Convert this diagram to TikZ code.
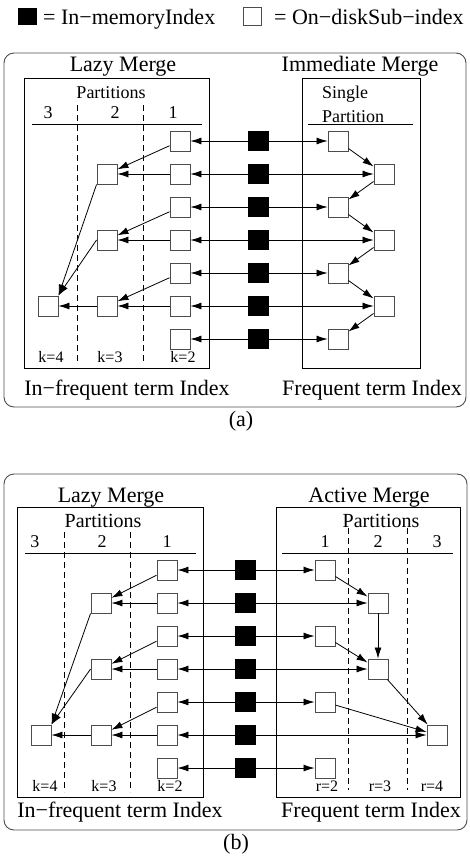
\documentclass[tikz,border=0pt]{standalone}
\usepackage{fontspec}
\setmainfont{Liberation Serif}
\usetikzlibrary{arrows.meta}

\tikzset{
  diskbox/.style={draw=black!70, fill=white, line width=0.9pt, minimum size=20pt, inner sep=0pt},
  membox/.style={fill=black, minimum width=21pt, minimum height=20pt, inner sep=0pt},
  arrowline/.style={draw, line width=0.8pt, -{Latex[length=11pt,width=7pt]}},
  twoarrow/.style={draw, line width=0.8pt, {Latex[length=11pt,width=7pt]}-{Latex[length=11pt,width=7pt]}},
  outerframe/.style={draw=black!70, line width=0.9pt, rounded corners=10pt},
  halfbox/.style={draw, line width=0.9pt},
  divline/.style={draw, line width=0.8pt, dash pattern=on 6pt off 4pt},
  bigtext/.style={font=\fontsize{22}{24}\selectfont, inner sep=0pt, anchor=base},
  midtext/.style={font=\fontsize{18}{20}\selectfont, inner sep=0pt, anchor=base},
  smalltext/.style={font=\fontsize{16}{18}\selectfont, inner sep=0pt, anchor=base},
}

\begin{document}
\begin{tikzpicture}[x=1pt, y=-1pt]
\useasboundingbox (0,0) rectangle (469,857);

% legend
\node[membox, minimum width=19pt, minimum height=17pt] (keymem) at (27.5,16.5) {};
\node[bigtext, anchor=base west] (keymemtext) at (43,24) {= In−memoryIndex};
\node[diskbox, minimum size=18pt] (keydisk) at (252,16.5) {};
\node[bigtext, anchor=base west] (keydisktext) at (274,24) {= On−diskSub−index};

% ---------- (a) ----------
\draw[outerframe] (4,53) rectangle (466,407);
\draw[halfbox] (24,78) rectangle (209,368);
\draw[halfbox] (302,78) rectangle (420,368);
\draw (32,124) -- (202,124);
\draw (308,124) -- (413,124);
\draw[divline] (77,105) -- (77,363);
\draw[divline] (143,105) -- (143,363);

\node[bigtext] (alazy) at (123,71) {Lazy Merge};
\node[bigtext] (aimm) at (360,71) {Immediate Merge};
\node[midtext] (aparts) at (111,98) {Partitions};
\node[midtext] (ap3) at (48,118) {3};
\node[midtext] (ap2) at (115,118) {2};
\node[midtext] (ap1) at (173,118) {1};
\node[midtext, anchor=base west] (asingle) at (322,98) {Single};
\node[midtext, anchor=base west] (apart) at (322,122) {Partition};
\node[smalltext] (ak4) at (51,362) {k=4};
\node[smalltext] (ak3) at (110,362) {k=3};
\node[smalltext] (ak2) at (183,362) {k=2};
\node[bigtext] (ainfreq) at (127,395) {In−frequent term Index};
\node[bigtext] (afreq) at (372,395) {Frequent term Index};
\node[bigtext] (acap) at (241,426) {(a)};

\node[diskbox] (a11) at (180,141) {};
\node[diskbox] (a12) at (180,174) {};
\node[diskbox] (a13) at (180,207) {};
\node[diskbox] (a14) at (180,240) {};
\node[diskbox] (a15) at (180,273) {};
\node[diskbox] (a16) at (180,306) {};
\node[diskbox] (a17) at (180,339) {};
\node[diskbox] (a22) at (107,174) {};
\node[diskbox] (a24) at (107,240) {};
\node[diskbox] (a26) at (107,306) {};
\node[diskbox] (a36) at (48,306) {};

\node[diskbox] (aF1) at (338,141) {};
\node[diskbox] (aF2) at (384,174) {};
\node[diskbox] (aF3) at (338,207) {};
\node[diskbox] (aF4) at (384,240) {};
\node[diskbox] (aF5) at (338,273) {};
\node[diskbox] (aF6) at (384,306) {};
\node[diskbox] (aF7) at (338,339) {};

\path[arrowline] (a11) -- (a22);
\path[arrowline] (a12) -- (a22);
\path[arrowline] (a13) -- (a24);
\path[arrowline] (a14) -- (a24);
\path[arrowline] (a15) -- (a26);
\path[arrowline] (a16) -- (a26);
\path[arrowline] (a26) -- (a36);
\path[arrowline] (a22.south west) -- (a36.north east);
\path[arrowline] (a24.west) -- (a36.north east);

\path[arrowline] (aF1) -- (aF2);
\path[arrowline] (aF2) -- (aF3);
\path[arrowline] (aF3) -- (aF4);
\path[arrowline] (aF4) -- (aF5);
\path[arrowline] (aF5) -- (aF6);
\path[arrowline] (aF6) -- (aF7);

\path[twoarrow] (a11) -- (aF1);
\path[twoarrow] (a12) -- (aF2);
\path[twoarrow] (a13) -- (aF3);
\path[twoarrow] (a14) -- (aF4);
\path[twoarrow] (a15) -- (aF5);
\path[twoarrow] (a16) -- (aF6);
\path[twoarrow] (a17) -- (aF7);

\node[membox] (am1) at (258.5,141) {};
\node[membox] (am2) at (258.5,174) {};
\node[membox] (am3) at (258.5,207) {};
\node[membox] (am4) at (258.5,240) {};
\node[membox] (am5) at (258.5,273) {};
\node[membox] (am6) at (258.5,306) {};
\node[membox] (am7) at (258.5,339) {};

% ---------- (b) ----------
\draw[outerframe] (4,474) rectangle (467,830);
\draw[halfbox] (17,507) rectangle (203,797);
\draw[halfbox] (276,507) rectangle (460,797);
\draw (25,553) -- (196,553);
\draw (282,553) -- (453,553);
\draw[divline] (64,532) -- (64,792);
\draw[divline] (130,532) -- (130,792);
\draw[divline] (348,528) -- (348,790);
\draw[divline] (407,528) -- (407,790);

\node[bigtext] (blazy) at (111,502) {Lazy Merge};
\node[bigtext] (bactive) at (369,502) {Active Merge};
\node[midtext, font=\fontsize{20}{22}\selectfont] (bpartsL) at (103,527) {Partitions};
\node[midtext, font=\fontsize{20}{22}\selectfont] (bpartsR) at (381,527) {Partitions};
\node[midtext] (bl3) at (35,547) {3};
\node[midtext] (bl2) at (102,547) {2};
\node[midtext] (bl1) at (167,547) {1};
\node[midtext] (br1) at (325,547) {1};
\node[midtext] (br2) at (378,547) {2};
\node[midtext] (br3) at (437,547) {3};
\node[smalltext] (bk4) at (45,791) {k=4};
\node[smalltext] (bk3) at (104,791) {k=3};
\node[smalltext] (bk2) at (170,791) {k=2};
\node[smalltext] (br2lab) at (327,791) {r=2};
\node[smalltext] (br3lab) at (380,791) {r=3};
\node[smalltext] (br4lab) at (432,791) {r=4};
\node[bigtext] (binfreq) at (120,817) {In−frequent term Index};
\node[bigtext] (bfreq) at (371,817) {Frequent term Index};
\node[bigtext] (bcap) at (236,849) {(b)};

\node[diskbox] (b11) at (167,570) {};
\node[diskbox] (b12) at (167,603) {};
\node[diskbox] (b13) at (167,636) {};
\node[diskbox] (b14) at (167,669) {};
\node[diskbox] (b15) at (167,702) {};
\node[diskbox] (b16) at (167,735) {};
\node[diskbox] (b17) at (167,768) {};
\node[diskbox] (b22) at (101,603) {};
\node[diskbox] (b24) at (101,669) {};
\node[diskbox] (b26) at (101,735) {};
\node[diskbox] (b36) at (41,735) {};

\node[diskbox] (bF1) at (325,570) {};
\node[diskbox] (bF2) at (378,603) {};
\node[diskbox] (bF3) at (325,636) {};
\node[diskbox] (bF4) at (378,669) {};
\node[diskbox] (bF5) at (325,702) {};
\node[diskbox] (bF6) at (437,735) {};
\node[diskbox] (bF7) at (325,768) {};

\path[arrowline] (b11) -- (b22);
\path[arrowline] (b12) -- (b22);
\path[arrowline] (b13) -- (b24);
\path[arrowline] (b14) -- (b24);
\path[arrowline] (b15) -- (b26);
\path[arrowline] (b16) -- (b26);
\path[arrowline] (b26) -- (b36);
\path[arrowline] (b22.south west) -- (b36.north east);
\path[arrowline] (b24.west) -- (b36.north east);

\path[arrowline] (bF1) -- (bF2);
\path[arrowline] (bF2) -- (bF4);
\path[arrowline] (bF3) -- (bF4);
\path[arrowline] (bF4) -- (bF6);
\path[arrowline] (bF5) -- (bF6);

\path[twoarrow] (b11) -- (bF1);
\path[twoarrow] (b12) -- (bF2);
\path[twoarrow] (b13) -- (bF3);
\path[twoarrow] (b14) -- (bF4);
\path[twoarrow] (b15) -- (bF5);
\path[twoarrow] (b16) -- (bF6);
\path[twoarrow] (b17) -- (bF7);

\node[membox] (bm1) at (245.5,570) {};
\node[membox] (bm2) at (245.5,603) {};
\node[membox] (bm3) at (245.5,636) {};
\node[membox] (bm4) at (245.5,669) {};
\node[membox] (bm5) at (245.5,702) {};
\node[membox] (bm6) at (245.5,735) {};
\node[membox] (bm7) at (245.5,768) {};
\end{tikzpicture}
\end{document}
